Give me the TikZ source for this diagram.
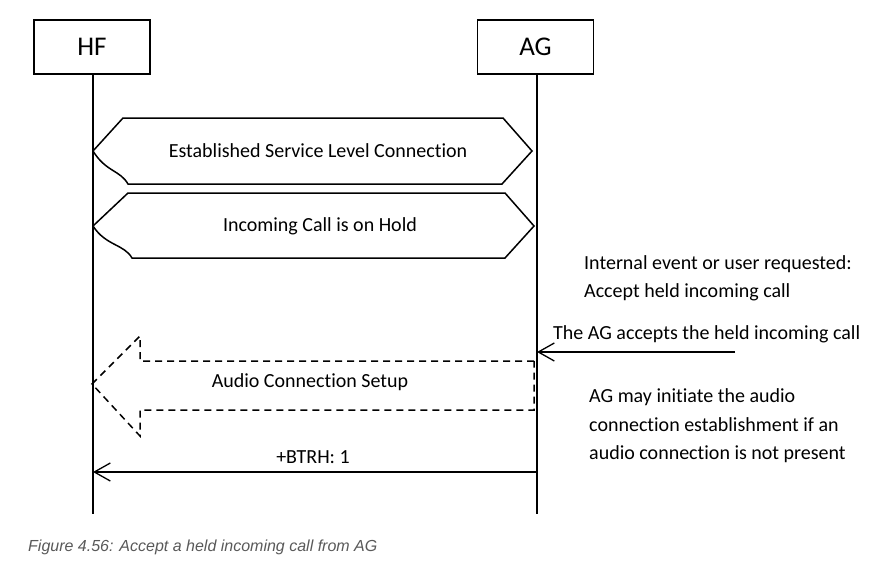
\documentclass[tikz,border=0pt]{standalone}
\usepackage{fontspec}
\setmainfont{Carlito}[Ligatures=NoCommon]
\newfontfamily\capfont{Liberation Sans}
\usetikzlibrary{arrows.meta}
\definecolor{capgray}{HTML}{595959}
\tikzset{
  every picture/.style={x=1pt,y=-1pt},
  entity/.style={draw,line width=1.2pt,minimum width=116pt,minimum height=54pt,inner sep=0pt,font=\fontsize{27}{30}\selectfont},
  life/.style={line width=1.5pt},
  msg/.style={line width=1.5pt,-{Straight Barb[length=16pt,width=18pt,line width=1.3pt]}},
  lbl/.style={font=\fontsize{20}{24}\selectfont,inner sep=0pt},
  note/.style={font=\fontsize{20}{24}\selectfont,inner sep=0pt,anchor=west},
  hexa/.style={line width=1.5pt},
  dsh/.style={line width=1.5pt,dash pattern=on 7pt off 5pt}
}
\begin{document}
\begin{tikzpicture}
\useasboundingbox (0,0) rectangle (886,576);
% entities
\node[entity] (hf) at (92,47) {HF};
\node[entity] (ag) at (535.5,47) {AG};
\coordinate (hfEnd) at (93,514);
\coordinate (agEnd) at (537,514);
\draw[life] (hf.south -| hfEnd) -- (hfEnd);
\draw[life] (ag.south -| agEnd) -- (agEnd);
% hexagon 1
\draw[hexa] (123,118) -- (503,118) -- (532,151) -- (502,184) -- (128,184)
  .. controls (120,170) and (106,172) .. (93,151) -- cycle;
\node[lbl] (slc) at (318,151) {Established Service Level Connection};
% hexagon 2
\draw[hexa] (128,193) -- (505,193) -- (534,226) -- (505,258) -- (132,258)
  .. controls (124,244) and (106,246) .. (93,226) -- cycle;
\node[lbl] (hold) at (320,226) {Incoming Call is on Hold};
% notes
\node[note] (n1) at (584,264) {Internal event or user requested:};
\node[note] (n2) at (584,292) {Accept held incoming call};
\node[note] (n3) at (553,334) {The AG accepts the held incoming call};
\coordinate (trig) at (735,352);
\draw[msg] (trig) -- (trig -| agEnd);
% dashed big arrow
\draw[dsh] (534,361) -- (140,361) -- (140,336) -- (92,384) -- (140,436) -- (140,410) -- (534,410) -- (534,361);
\node[lbl] (acs) at (310,382) {Audio Connection Setup};
\node[note] (n4) at (589,397) {AG may initiate the audio};
\node[note] (n5) at (589,425) {connection establishment if an};
\node[note] (n6) at (589,454) {audio connection is not present};
% +BTRH
\coordinate (btrhA) at (537,472);
\draw[msg] (btrhA) -- (btrhA -| hfEnd);
\node[lbl] (btrh) at (313,457) {+BTRH: 1};
% caption
\node[anchor=west,inner sep=0pt,text=capgray,font=\capfont\itshape\fontsize{16}{18}\selectfont] (cap) at (28,547) {Figure 4.56: Accept a held incoming call from AG};
\end{tikzpicture}
\end{document}
